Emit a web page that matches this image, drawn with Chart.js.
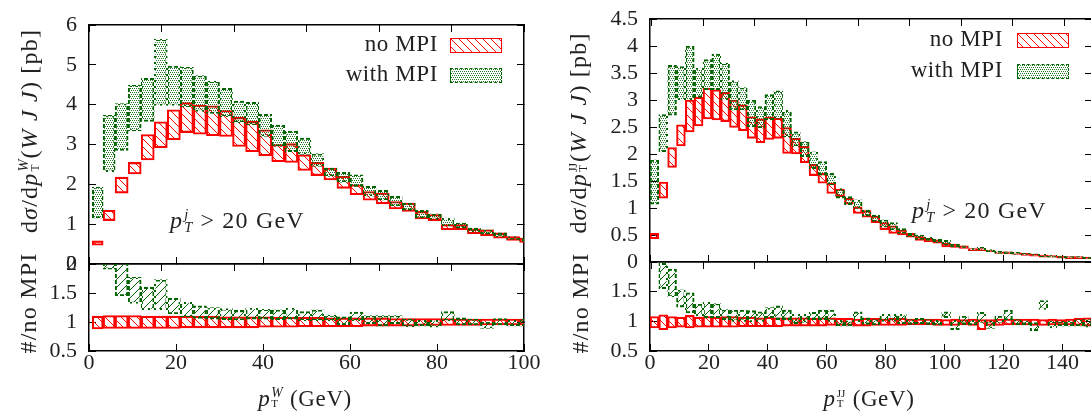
<!DOCTYPE html>
<html>
<head>
<meta charset="utf-8">
<script src="https://cdn.jsdelivr.net/npm/chart.js@4.4.1/dist/chart.umd.min.js"></script>
<style>
    html, body { margin: 0; padding: 0; background: #fff; }
    body { width: 1091px; height: 412px; position: relative; overflow: hidden; }
    canvas { position: absolute; }
    .t {
        position: absolute;
        font-family: 'Liberation Serif', 'DejaVu Serif', serif;
        font-size: 23px;
        letter-spacing: 0.6px;
        line-height: 26px;
        color: #222;
        white-space: nowrap;
    }
    .big { font-size: 24px; letter-spacing: 1.2px; }
    .r { text-align: right; }
    .vt { transform: translate(-50%, -50%) rotate(-90deg); }
    .ht { transform: translate(-50%, -50%); }
    .ss {
        display: inline-flex;
        flex-direction: column;
        font-size: 0.6em;
        line-height: 0.9;
        vertical-align: 9px;
        margin: 0 1px 0 1px;
        letter-spacing: 0;
    }
    .ss span { display: block; }
    .sw { position: absolute; width: 52px; height: 15px; box-sizing: border-box; }
</style>
</head>
<body>
<canvas id="mainW" width="560" height="330" style="left:0px;top:-20px"></canvas>
<canvas id="ratioW" width="560" height="192" style="left:0px;top:220px"></canvas>
<canvas id="mainJJ" width="570" height="330" style="left:560px;top:-20px"></canvas>
<canvas id="ratioJJ" width="570" height="192" style="left:560px;top:220px"></canvas>

<!-- axis titles -->
<div class="t big vt" style="left:29px;top:131px">d<i>σ</i>/d<i>p</i><span class="ss"><span><i>W</i></span><span style="font-size:0.8em">T</span></span>(<i>W&nbsp;J&nbsp;J</i>) [pb]</div>
<div class="t big vt" style="left:28px;top:303px">#/no MPI</div>
<div class="t ht" style="left:305px;top:399px"><i>p</i><span class="ss"><span><i>W</i></span><span style="font-size:0.8em">T</span></span> (GeV)</div>

<div class="t big vt" style="left:578px;top:133px">d<i>σ</i>/d<i>p</i><span class="ss"><span style="font-size:0.8em">JJ</span><span style="font-size:0.8em">T</span></span>(<i>W&nbsp;J&nbsp;J</i>) [pb]</div>
<div class="t big vt" style="left:580px;top:303px">#/no MPI</div>
<div class="t ht" style="left:869px;top:399px"><i>p</i><span class="ss"><span style="font-size:0.8em">JJ</span><span style="font-size:0.8em">T</span></span> (GeV)</div>

<!-- cut annotation -->
<div class="t big" style="left:170px;top:207px"><i>p</i><span class="ss"><span><i>j</i></span><span><i>T</i></span></span> &gt; 20 GeV</div>
<div class="t big" style="left:912px;top:197px"><i>p</i><span class="ss"><span><i>j</i></span><span><i>T</i></span></span> &gt; 20 GeV</div>

<!-- legends -->
<div id="legW"></div>
<div id="legJJ"></div>

<script>
// ---------- p_T^W panel: 3 GeV bins (first one starts near 1 GeV) ----------
const binsW = [2, 4.5, 7.5, 10.5, 13.5, 16.5, 19.5, 22.5, 25.5, 28.5, 31.5, 34.5, 37.5, 40.5, 43.5, 46.5, 49.5,
    52.5, 55.5, 58.5, 61.5, 64.5, 67.5, 70.5, 73.5, 76.5, 79.5, 82.5, 85.5, 88.5, 91.5, 94.5, 97.5, 100.5];

const noMpiLoW = [0.47, 1.09, 1.78, 2.26, 2.61, 2.92, 3.12, 3.30, 3.26, 3.22, 3.20, 2.95, 2.82, 2.72, 2.57, 2.55, 2.35,
    2.22, 2.11, 1.90, 1.74, 1.60, 1.51, 1.38, 1.32, 1.13, 1.09, 0.86, 0.86, 0.76, 0.71, 0.65, 0.59, 0.54];
const noMpiHiW = [0.58, 1.35, 2.18, 2.55, 3.25, 3.57, 3.87, 4.05, 3.99, 3.97, 3.85, 3.68, 3.58, 3.37, 3.00, 3.02, 2.74,
    2.55, 2.41, 2.20, 1.99, 1.82, 1.78, 1.57, 1.53, 1.32, 1.24, 0.99, 0.99, 0.88, 0.86, 0.78, 0.69, 0.65];
const mpiLoW = [1.15, 2.32, 2.85, 3.34, 3.58, 3.98, 3.98, 3.95, 3.83, 3.78, 3.70, 3.55, 3.50, 3.20, 2.95, 2.82, 2.75,
    2.45, 2.20, 2.05, 1.95, 1.70, 1.60, 1.45, 1.35, 1.15, 1.12, 0.95, 0.90, 0.80, 0.75, 0.68, 0.62, 0.57];
const mpiHiW = [1.93, 3.73, 4.03, 4.49, 4.66, 5.64, 4.97, 4.94, 4.73, 4.59, 4.41, 4.09, 4.06, 3.76, 3.49, 3.34, 3.16,
    2.77, 2.41, 2.30, 2.24, 1.95, 1.85, 1.70, 1.53, 1.35, 1.26, 1.15, 1.03, 0.90, 0.86, 0.78, 0.69, 0.65];

// ratio to "no MPI"
const ratioNoLoW = [0.88, 0.89, 0.89, 0.89, 0.89, 0.89, 0.89, 0.90, 0.90, 0.90, 0.90, 0.90, 0.90, 0.91, 0.91, 0.91, 0.92,
    0.92, 0.92, 0.92, 0.92, 0.93, 0.93, 0.93, 0.93, 0.94, 0.94, 0.94, 0.94, 0.94, 0.95, 0.95, 0.95, 0.95];
const ratioNoHiW = [1.10, 1.11, 1.11, 1.11, 1.10, 1.10, 1.10, 1.10, 1.10, 1.10, 1.09, 1.09, 1.09, 1.09, 1.08, 1.08, 1.08,
    1.08, 1.07, 1.07, 1.07, 1.07, 1.07, 1.06, 1.06, 1.06, 1.06, 1.06, 1.05, 1.05, 1.05, 1.05, 1.05, 1.05];
const ratioMpiLoW = [2.20, 1.91, 1.45, 1.32, 1.21, 1.21, 1.14, 1.09, 1.06, 1.05, 1.04, 1.03, 1.05, 1.05, 1.04, 1.05, 1.02,
    1.02, 1.02, 0.95, 1.02, 0.97, 0.93, 0.97, 0.92, 0.93, 0.91, 1.02, 0.95, 0.95, 0.89, 0.95, 0.93, 0.93];
const ratioMpiHiW = [3.60, 3.05, 2.03, 1.77, 1.60, 1.73, 1.41, 1.34, 1.28, 1.25, 1.23, 1.20, 1.24, 1.22, 1.21, 1.24, 1.18,
    1.21, 1.12, 1.09, 1.17, 1.11, 1.11, 1.11, 1.05, 1.03, 1.03, 1.18, 1.07, 1.05, 1.00, 1.06, 1.03, 1.05];

// ---------- p_T^JJ panel: 3 GeV bins ----------
const binsJJ = [1.5, 4.5, 7.5, 10.5, 13.5, 16.5, 19.5, 22.5, 25.5, 28.5, 31.5, 34.5, 37.5, 40.5, 43.5, 46.5, 49.5,
    52.5, 55.5, 58.5, 61.5, 64.5, 67.5, 70.5, 73.5, 76.5, 79.5, 82.5, 85.5, 88.5, 91.5, 94.5, 97.5, 100.5, 103.5,
    106.5, 109.5, 112.5, 115.5, 118.5, 121.5, 124.5, 127.5, 130.5, 133.5, 136.5, 139.5, 142.5, 145.5, 148.5];

const noMpiLoJJ = [0.43, 1.18, 1.75, 2.15, 2.41, 2.52, 2.65, 2.63, 2.60, 2.49, 2.43, 2.29, 2.21, 2.27, 2.29, 2.01, 2.00,
    1.84, 1.60, 1.46, 1.27, 1.21, 1.07, 0.90, 0.83, 0.73, 0.60, 0.53, 0.50, 0.46, 0.40, 0.37, 0.35, 0.28, 0.27,
    0.25, 0.21, 0.21, 0.19, 0.16, 0.15, 0.14, 0.12, 0.11, 0.09, 0.09, 0.07, 0.06, 0.06, 0.055];
const noMpiHiJJ = [0.53, 1.48, 2.12, 2.54, 3.00, 3.05, 3.22, 3.19, 3.14, 3.00, 2.91, 2.69, 2.65, 2.69, 2.66, 2.49, 2.29,
    2.14, 1.81, 1.64, 1.46, 1.35, 1.18, 1.02, 0.95, 0.85, 0.73, 0.67, 0.59, 0.53, 0.47, 0.44, 0.41, 0.35, 0.33,
    0.30, 0.25, 0.25, 0.22, 0.19, 0.19, 0.17, 0.16, 0.14, 0.13, 0.12, 0.11, 0.10, 0.10, 0.085];
const mpiLoJJ = [1.07, 2.04, 2.72, 3.00, 3.00, 3.05, 3.19, 3.19, 3.00, 2.81, 2.81, 2.50, 2.48, 2.63, 2.66, 2.32, 2.14,
    1.95, 1.73, 1.61, 1.43, 1.18, 1.06, 0.99, 0.85, 0.75, 0.65, 0.59, 0.53, 0.47, 0.42, 0.40, 0.36, 0.31, 0.28,
    0.26, 0.22, 0.22, 0.19, 0.16, 0.15, 0.14, 0.13, 0.12, 0.10, 0.09, 0.08, 0.07, 0.07, 0.06];
const mpiHiJJ = [1.89, 2.73, 3.64, 3.62, 4.00, 3.59, 3.75, 3.85, 3.68, 3.36, 3.23, 3.00, 2.88, 3.10, 3.17, 2.81, 2.41,
    2.23, 2.04, 1.86, 1.64, 1.36, 1.21, 1.15, 0.96, 0.87, 0.78, 0.73, 0.62, 0.53, 0.50, 0.46, 0.42, 0.40, 0.33,
    0.30, 0.26, 0.27, 0.23, 0.20, 0.19, 0.18, 0.16, 0.15, 0.14, 0.13, 0.11, 0.10, 0.10, 0.09];

const ratioNoLoJJ = [0.89, 0.86, 0.89, 0.90, 0.89, 0.90, 0.90, 0.90, 0.90, 0.90, 0.91, 0.91, 0.91, 0.91, 0.91, 0.92, 0.92,
    0.92, 0.92, 0.92, 0.93, 0.93, 0.93, 0.92, 0.92, 0.93, 0.93, 0.93, 0.93, 0.94, 0.94, 0.94, 0.93, 0.93, 0.93,
    0.94, 0.93, 0.86, 0.93, 0.93, 0.94, 0.94, 0.94, 0.93, 0.93, 0.94, 0.94, 0.94, 0.93, 0.92];
const ratioNoHiJJ = [1.08, 1.11, 1.08, 1.07, 1.10, 1.07, 1.08, 1.07, 1.08, 1.08, 1.07, 1.07, 1.06, 1.07, 1.06, 1.06, 1.06,
    1.06, 1.05, 1.06, 1.06, 1.05, 1.05, 1.04, 1.05, 1.05, 1.04, 1.05, 1.05, 1.04, 1.04, 1.04, 1.04, 1.03, 1.04,
    1.03, 1.04, 1.03, 1.03, 1.04, 1.04, 1.04, 1.04, 1.04, 1.03, 1.04, 1.03, 1.04, 1.05, 1.06];
const ratioMpiLoJJ = [2.20, 1.55, 1.41, 1.24, 1.14, 1.09, 1.06, 1.06, 1.03, 1.00, 1.00, 0.99, 1.00, 1.06, 1.03, 1.03, 0.96,
    0.98, 1.03, 1.03, 1.00, 0.92, 0.92, 0.99, 0.95, 0.94, 1.00, 1.00, 0.96, 0.95, 0.96, 0.95, 0.94, 1.06, 0.86,
    0.95, 0.94, 0.98, 0.88, 0.98, 1.02, 0.94, 0.94, 0.84, 1.20, 0.89, 0.92, 0.92, 0.92, 0.90];
const ratioMpiHiJJ = [3.90, 1.98, 1.88, 1.53, 1.48, 1.29, 1.32, 1.30, 1.20, 1.19, 1.19, 1.18, 1.16, 1.23, 1.26, 1.19, 1.12,
    1.12, 1.15, 1.19, 1.19, 1.02, 1.01, 1.16, 1.06, 1.03, 1.12, 1.12, 1.12, 1.03, 1.05, 1.03, 1.02, 1.16, 1.02,
    1.09, 1.02, 1.15, 1.01, 1.09, 1.19, 1.03, 1.01, 0.98, 1.35, 1.00, 1.00, 1.00, 1.03, 1.03];

// ---------- axis ticks ----------
const xTicksW = [0, 20, 40, 60, 80, 100];
const xTicksJJ = [0, 20, 40, 60, 80, 100, 120, 140];
const yTicksW = [0, 1, 2, 3, 4, 5, 6];
const yTicksJJ = [0, 0.5, 1, 1.5, 2, 2.5, 3, 3.5, 4, 4.5];
const yTicksRatio = [0.5, 1, 1.5, 2];
const legendLabels = ['no MPI', 'with MPI'];

const RED = '#ff0000';
const GREEN = '#006400';

// small repeating tiles used as fill patterns
function tile(size, draw) {
    const c = document.createElement('canvas');
    c.width = c.height = size;
    draw(c.getContext('2d'), size);
    return c;
}
const patCtx = document.createElement('canvas').getContext('2d');
const pattern = c => patCtx.createPattern(c, 'repeat');

const backHatchTile = tile(8, (g, s) => {      // "\\\" lines
    g.strokeStyle = RED; g.lineWidth = 1;
    g.beginPath();
    g.moveTo(-2, -2); g.lineTo(s + 2, s + 2);
    g.moveTo(s - 2, -2); g.lineTo(s + 2, 2);
    g.moveTo(-2, s - 2); g.lineTo(2, s + 2);
    g.stroke();
});
const fwdHatchTile = tile(8, (g, s) => {       // "///" lines
    g.strokeStyle = GREEN; g.lineWidth = 1;
    g.beginPath();
    g.moveTo(-2, s + 2); g.lineTo(s + 2, -2);
    g.moveTo(-2, 2); g.lineTo(2, -2);
    g.moveTo(s - 2, s + 2); g.lineTo(s + 2, s - 2);
    g.stroke();
});
const dotTile = tile(4, (g) => {               // staggered stipple
    g.fillStyle = 'rgba(0, 100, 0, 0.85)';
    g.fillRect(0, 0, 1, 1);
    g.fillRect(2, 0, 1, 1);
    g.fillRect(1, 2, 1, 1);
    g.fillRect(3, 2, 1, 1);
});
const dashTile = tile(6, (g) => {              // gives dashed look on thin borders
    g.fillStyle = GREEN;
    g.fillRect(0, 0, 4, 4);
    g.fillRect(4, 4, 2, 2);
});

const redHatch = pattern(backHatchTile);
const greenHatch = pattern(fwdHatchTile);
const greenDots = pattern(dotTile);
const greenDash = pattern(dashTile);

function band(bins, lo, hi, fill, border, order) {
    return {
        data: bins.map((x, i) => ({ x: x, y: [lo[i], hi[i]] })),
        backgroundColor: fill,
        borderColor: border,
        borderWidth: 1.4,
        borderSkipped: false,
        stack: 'band',
        barThickness: 'flex',
        categoryPercentage: 1,
        barPercentage: 1,
        clip: 0,
        order: order
    };
}

function drawPanel(id, o) {
    const tickFont = { family: "'Liberation Serif', 'Times New Roman', serif", size: 22 };
    const grid = { drawOnChartArea: false, tickLength: -7, color: '#000', lineWidth: 1 };
    const border = { display: true, color: '#000', width: 1.5 };
    const setTicks = arr => scale => { scale.ticks = arr.map(v => ({ value: v })); };

    return new Chart(document.getElementById(id), {
        type: 'bar',
        data: { datasets: o.sets },
        options: {
            responsive: false,
            animation: false,
            events: [],
            layout: { padding: 0 },
            plugins: { legend: { display: false }, tooltip: { enabled: false } },
            scales: {
                x: {
                    type: 'linear', position: 'bottom', min: 0, max: o.xMax, offset: false,
                    grid: Object.assign({}, grid, { offset: false }), border: border,
                    ticks: { display: o.xLabels, font: tickFont, color: '#222', padding: 6, maxRotation: 0, autoSkip: false },
                    afterBuildTicks: setTicks(o.xTicks),
                    afterFit: s => { s.height = o.pad[3]; }
                },
                xTop: {
                    type: 'linear', position: 'top', min: 0, max: o.xMax,
                    grid: grid, border: border, ticks: { display: false },
                    afterBuildTicks: setTicks(o.xTicks),
                    afterFit: s => { s.height = o.pad[0]; }
                },
                y: {
                    type: 'linear', position: 'left', min: o.yMin, max: o.yMax, stacked: false,
                    grid: grid, border: border,
                    ticks: {
                        font: tickFont, color: '#222', padding: 19, autoSkip: false,
                        callback: v => (o.yHide.includes(v) ? '' : v)
                    },
                    afterBuildTicks: setTicks(o.yTicks),
                    afterFit: s => { s.width = o.pad[1]; }
                },
                yRight: {
                    type: 'linear', position: 'right', min: o.yMin, max: o.yMax,
                    grid: grid, border: border, ticks: { display: false },
                    afterBuildTicks: setTicks(o.yTicks),
                    afterFit: s => { s.width = o.pad[2]; }
                }
            }
        }
    });
}

// pad = [top, left, right, bottom] sizes of the axis boxes (px); canvases overlap, so the
// boxes are generous enough for Chart.js' own label padding
drawPanel('mainW', {
    sets: [band(binsW, noMpiLoW, noMpiHiW, redHatch, RED, 1),
           band(binsW, mpiLoW, mpiHiW, greenDots, greenDash, 0)],
    xMax: 100, xTicks: xTicksW, xLabels: false,
    yMin: 0, yMax: 6, yTicks: yTicksW, yHide: [],
    pad: [45, 89, 36, 46]
});
drawPanel('ratioW', {
    sets: [band(binsW, ratioNoLoW, ratioNoHiW, redHatch, RED, 1),
           band(binsW, ratioMpiLoW, ratioMpiHiW, greenHatch, greenDash, 0)],
    xMax: 100, xTicks: xTicksW, xLabels: true,
    yMin: 0.5, yMax: 2, yTicks: yTicksRatio, yHide: [],
    pad: [44, 89, 36, 61]
});
drawPanel('mainJJ', {
    sets: [band(binsJJ, noMpiLoJJ, noMpiHiJJ, redHatch, RED, 1),
           band(binsJJ, mpiLoJJ, mpiHiJJ, greenDots, greenDash, 0)],
    xMax: 150, xTicks: xTicksJJ, xLabels: false,
    yMin: 0, yMax: 4.5, yTicks: yTicksJJ, yHide: [],
    pad: [39, 90, 38, 48]
});
drawPanel('ratioJJ', {
    sets: [band(binsJJ, ratioNoLoJJ, ratioNoHiJJ, redHatch, RED, 1),
           band(binsJJ, ratioMpiLoJJ, ratioMpiHiJJ, greenHatch, greenDash, 0)],
    xMax: 150, xTicks: xTicksJJ, xLabels: true,
    yMin: 0.5, yMax: 2, yTicks: yTicksRatio, yHide: [2],
    pad: [42, 90, 38, 61]
});

// HTML legend, text on the left of the swatch like the original
function buildLegend(holder, textRight, swLeft, rows) {
    const el = document.getElementById(holder);
    const swatches = [
        { bg: backHatchTile.toDataURL(), border: '1.5px solid ' + RED },
        { bg: dotTile.toDataURL(), border: '1.5px dashed ' + GREEN }
    ];
    legendLabels.forEach((label, i) => {
        const txt = document.createElement('div');
        txt.className = 't r';
        txt.style.right = (1091 - textRight) + 'px';
        txt.style.top = (rows[i] - 14) + 'px';
        txt.textContent = label;
        el.appendChild(txt);

        const sw = document.createElement('div');
        sw.className = 'sw';
        sw.style.left = swLeft + 'px';
        sw.style.top = (rows[i] - 7) + 'px';
        sw.style.border = swatches[i].border;
        sw.style.backgroundImage = 'url(' + swatches[i].bg + ')';
        el.appendChild(sw);
    });
}
buildLegend('legW', 438, 450, [45, 75]);
buildLegend('legJJ', 1003, 1017, [40, 71]);
</script>
</body>
</html>
